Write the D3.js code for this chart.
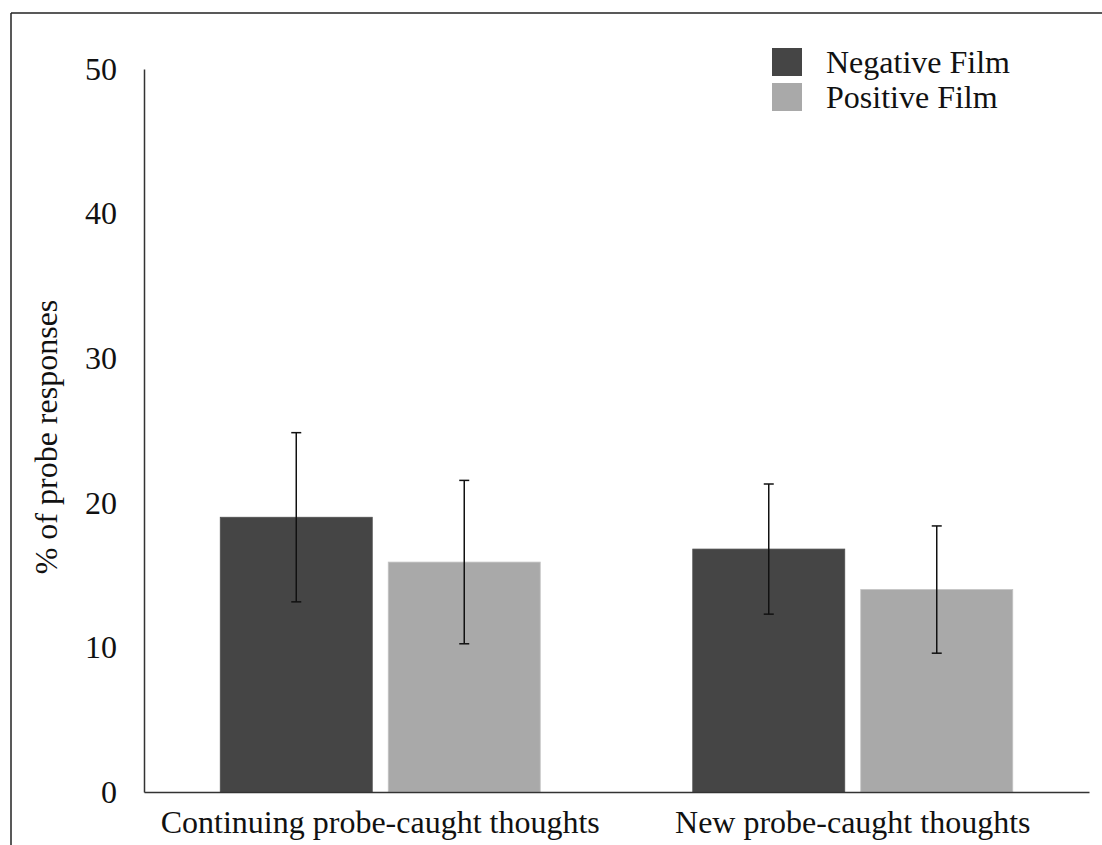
<!DOCTYPE html>
<html>
<head>
<meta charset="utf-8">
<script src="https://cdn.jsdelivr.net/npm/d3@7"></script>
<style>
  html, body { margin: 0; padding: 0; background: #fff; }
  svg { display: block; }
  text { font-family: "Liberation Serif", "DejaVu Serif", serif; fill: #111; }
</style>
</head>
<body>
<svg id="chart" width="1102" height="845"></svg>
<script>
// ---- data ----
const categories = ["Continuing probe-caught thoughts", "New probe-caught thoughts"];
const seriesNames = ["Negative Film", "Positive Film"];
const negativeValues = [19.0, 16.8];
const positiveValues = [15.9, 14.0];
const negativeErrors = [5.85, 4.5];
const positiveErrors = [5.65, 4.4];
const yTicks = [0, 10, 20, 30, 40, 50];
const seriesColors = ["#454545", "#a9a9a9"];

const FS = "32px";
const svg = d3.select("#chart");

// frame (top and left lines)
svg.append("line").attr("x1", 11).attr("x2", 1102).attr("y1", 13).attr("y2", 13)
  .attr("stroke", "#222").attr("stroke-width", 1.5);
svg.append("line").attr("x1", 11).attr("x2", 11).attr("y1", 13).attr("y2", 845)
  .attr("stroke", "#222").attr("stroke-width", 1.5);

const mLeft = 144, mRight = 1089, mTop = 69, mBottom = 792;

const y = d3.scaleLinear().domain([0, 50]).range([mBottom, mTop]);
const x0 = d3.scaleBand().domain(categories).range([mLeft, mRight]).padding(0);
const x1 = d3.scaleBand().domain(seriesNames).range([0, x0.bandwidth()])
  .paddingInner(0.0952).paddingOuter(0.4539);

const table = categories.map((c, i) => ({
  cat: c,
  vals: [
    { s: seriesNames[0], v: negativeValues[i], e: negativeErrors[i], color: seriesColors[0] },
    { s: seriesNames[1], v: positiveValues[i], e: positiveErrors[i], color: seriesColors[1] }
  ]
}));

// bars
const groups = svg.append("g").selectAll("g").data(table).join("g")
  .attr("transform", d => `translate(${x0(d.cat)},0)`);

groups.selectAll("rect").data(d => d.vals).join("rect")
  .attr("x", d => x1(d.s))
  .attr("y", d => y(d.v))
  .attr("width", x1.bandwidth())
  .attr("height", d => y(0) - y(d.v))
  .attr("fill", d => d.color)
  .attr("stroke", d => d3.color(d.color).brighter(0.4))
  .attr("stroke-width", 0.8);

// error bars
const eb = groups.selectAll("g.err").data(d => d.vals).join("g").attr("class", "err");
eb.append("line")
  .attr("x1", d => x1(d.s) + x1.bandwidth() / 2)
  .attr("x2", d => x1(d.s) + x1.bandwidth() / 2)
  .attr("y1", d => y(d.v + d.e))
  .attr("y2", d => y(d.v - d.e))
  .attr("stroke", "#111").attr("stroke-width", 1.5);
[1, -1].forEach(sign => {
  eb.append("line")
    .attr("x1", d => x1(d.s) + x1.bandwidth() / 2 - 5)
    .attr("x2", d => x1(d.s) + x1.bandwidth() / 2 + 5)
    .attr("y1", d => y(d.v + sign * d.e))
    .attr("y2", d => y(d.v + sign * d.e))
    .attr("stroke", "#111").attr("stroke-width", 1.5);
});

// y axis
const yAxis = d3.axisLeft(y).tickValues(yTicks).tickSize(0).tickPadding(27).tickFormat(d3.format("d"));
const gy = svg.append("g").attr("transform", `translate(${mLeft},0)`).call(yAxis);
gy.select(".domain").attr("stroke", "#333").attr("stroke-width", 1.5);
gy.selectAll("text").style("font-family", "Liberation Serif").style("font-size", FS).attr("fill", "#111");

// x axis
const xAxis = d3.axisBottom(x0).tickSize(0).tickPadding(18);
const gx = svg.append("g").attr("transform", `translate(0,${mBottom})`).call(xAxis);
gx.select(".domain").attr("stroke", "#333").attr("stroke-width", 1.5);
gx.selectAll("text").style("font-family", "Liberation Serif").style("font-size", FS).attr("fill", "#111");

// y title
svg.append("text")
  .attr("transform", `translate(57,437) rotate(-90)`)
  .attr("text-anchor", "middle")
  .style("font-size", FS)
  .text("% of probe responses");

// legend
const legend = svg.append("g").selectAll("g").data(seriesNames).join("g")
  .attr("transform", (d, i) => `translate(772,${48 + i * 35})`);
legend.append("rect").attr("width", 30).attr("height", 28)
  .attr("fill", (d, i) => seriesColors[i]);
legend.append("text").attr("x", 54).attr("y", 25)
  .style("font-size", FS).text(d => d);
</script>
</body>
</html>
